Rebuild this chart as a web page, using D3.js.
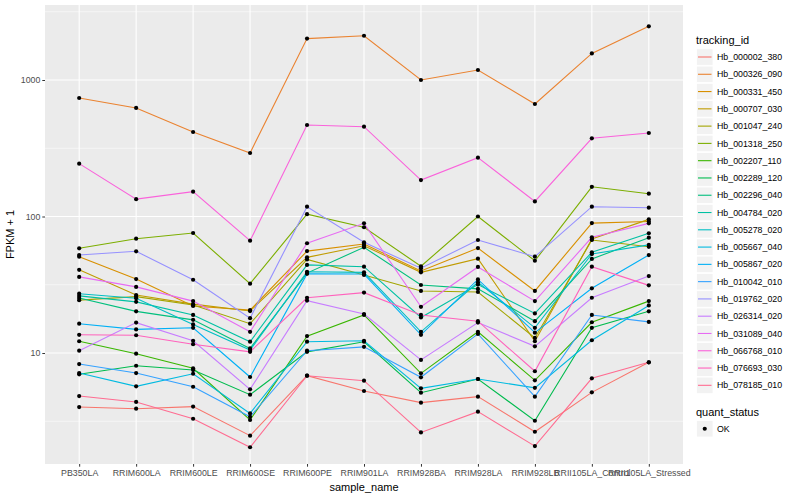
<!DOCTYPE html>
<html><head><meta charset="utf-8">
<script src="https://cdn.jsdelivr.net/npm/d3@7"></script>
<style>body{margin:0;background:#fff}svg{font-family:"Liberation Sans",Arial,sans-serif}</style>
</head><body><svg id="c" width="800" height="500"></svg>
<script>
const samples = ["PB350LA","RRIM600LA","RRIM600LE","RRIM600SE","RRIM600PE","RRIM901LA","RRIM928BA","RRIM928LA","RRIM928LB","RRII105LA_Control","RRII105LA_Stressed"];
const trackingIds = ["Hb_000002_380","Hb_000326_090","Hb_000331_450","Hb_000707_030","Hb_001047_240","Hb_001318_250","Hb_002207_110","Hb_002289_120","Hb_002296_040","Hb_004784_020","Hb_005278_020","Hb_005667_040","Hb_005867_020","Hb_010042_010","Hb_019762_020","Hb_026314_020","Hb_031089_040","Hb_066768_010","Hb_076693_030","Hb_078185_010"];
const hb_000002_380 = [4.02, 3.91, 4.05, 2.48, 6.82, 5.27, 4.33, 4.79, 2.65, 5.15, 8.55];
const hb_000326_090 = [738, 624, 416, 292, 2010, 2110, 1000, 1184, 667, 1567, 2472];
const hb_000331_450 = [50.8, 34.8, 22.1, 20.6, 55.8, 62.9, 39.9, 58.7, 28.5, 89.5, 92.0];
const hb_000707_030 = [40.7, 26.6, 22.8, 20.3, 50.2, 61.1, 39.0, 49.1, 12.2, 68.4, 95.3];
const hb_001047_240 = [24.4, 25.9, 22.5, 16.4, 48.5, 37.3, 28.5, 28.0, 12.9, 67.3, 60.0];
const hb_001318_250 = [58.5, 68.8, 75.7, 32.2, 104, 83.4, 43.2, 100, 47.4, 165, 147];
const hb_002207_110 = [12.2, 9.89, 7.73, 3.23, 13.3, 19.0, 7.1, 14.3, 6.31, 16.8, 24.0];
const hb_002289_120 = [6.98, 8.07, 7.50, 4.95, 10.2, 12.1, 5.12, 6.45, 3.19, 15.3, 20.2];
const hb_002296_040 = [25.3, 20.2, 17.5, 10.8, 38.5, 59.5, 31.5, 29.5, 17.1, 48.9, 70.0];
const hb_004784_020 = [26.2, 23.7, 19.0, 12.1, 44.2, 42.9, 18.2, 31.7, 19.5, 54.7, 75.4];
const hb_005278_020 = [27.2, 25.2, 16.2, 10.5, 39.4, 39.0, 14.3, 33.0, 15.3, 53.1, 62.0];
const hb_005667_040 = [7.13, 5.70, 7.05, 3.61, 12.1, 12.3, 5.51, 6.45, 5.56, 12.4, 22.3];
const hb_005867_020 = [16.4, 14.9, 15.3, 6.67, 38.0, 37.9, 13.6, 34.6, 14.1, 29.8, 52.2];
const hb_010042_010 = [8.30, 7.13, 5.66, 3.41, 10.4, 11.1, 6.64, 13.8, 4.79, 19.0, 16.9];
const hb_019762_020 = [52.2, 55.6, 34.4, 18.0, 118, 64.7, 41.8, 67.3, 50.8, 118, 116];
const hb_026314_020 = [10.4, 16.7, 12.3, 5.42, 24.2, 19.3, 8.9, 16.7, 11.2, 25.4, 36.6];
const hb_031089_040 = [36.1, 30.5, 24.0, 14.3, 63.7, 89.1, 21.8, 42.7, 24.0, 70.4, 89.1];
const hb_066768_010 = [244, 134, 152, 66.5, 468, 455, 185, 270, 129, 374, 409];
const hb_076693_030 = [13.6, 13.5, 11.6, 10.2, 25.4, 27.7, 19.0, 17.1, 7.35, 42.9, 31.3];
const hb_078185_010 = [4.84, 4.38, 3.30, 2.04, 6.82, 6.27, 2.62, 3.72, 2.08, 6.53, 8.55];
const seriesValues = [hb_000002_380,hb_000326_090,hb_000331_450,hb_000707_030,hb_001047_240,hb_001318_250,hb_002207_110,hb_002289_120,hb_002296_040,hb_004784_020,hb_005278_020,hb_005667_040,hb_005867_020,hb_010042_010,hb_019762_020,hb_026314_020,hb_031089_040,hb_066768_010,hb_076693_030,hb_078185_010];
const colors = ["#F8766D","#EA8331","#D89000","#C09B00","#A3A500","#7CAE00","#39B600","#00BB4E","#00BF7D","#00C1A3","#00BFC4","#00BAE0","#00B0F6","#35A2FF","#9590FF","#C77CFF","#E76BF3","#FA62DB","#FF62BC","#FF6C91"];
const yTicks = [10, 100, 1000];
const yMinor = [3.1623, 31.623, 316.23, 3162.3];
const yDomain = [1.538, 3544];

const svg = d3.select("#c");
const P = {l:45, r:683, t:5, b:464};
const x = d3.scalePoint().domain(samples).range([P.l, P.r]).padding(0.6);
const y = d3.scaleLog().domain(yDomain).range([P.b, P.t]);

svg.append("rect").attr("x",P.l).attr("y",P.t).attr("width",P.r-P.l).attr("height",P.b-P.t).attr("fill","#EBEBEB");
const g = svg.append("g");
g.selectAll(".ymin").data(yMinor).join("line").attr("x1",P.l).attr("x2",P.r)
  .attr("y1",d=>y(d)).attr("y2",d=>y(d)).attr("stroke","#fff").attr("stroke-width",0.55);
g.selectAll(".ymaj").data(yTicks).join("line").attr("x1",P.l).attr("x2",P.r)
  .attr("y1",d=>y(d)).attr("y2",d=>y(d)).attr("stroke","#fff").attr("stroke-width",1.1);
g.selectAll(".xmaj").data(samples).join("line").attr("y1",P.t).attr("y2",P.b)
  .attr("x1",d=>x(d)).attr("x2",d=>x(d)).attr("stroke","#fff").attr("stroke-width",1.1);

// axes
const yAxis = d3.axisLeft(y).tickValues(yTicks).tickFormat(d3.format("d")).tickSize(2.7).tickPadding(2);
const ya = svg.append("g").attr("transform",`translate(${P.l},0)`).call(yAxis);
ya.select(".domain").remove();
ya.selectAll("line").attr("stroke","#333");
ya.selectAll("text").attr("fill","#4D4D4D").attr("font-size","8.8px").attr("font-family","Liberation Sans, Arial, sans-serif");
const xAxis = d3.axisBottom(x).tickSize(2.7).tickPadding(3.5);
const xa = svg.append("g").attr("transform",`translate(0,${P.b})`).call(xAxis);
xa.select(".domain").remove();
xa.selectAll("line").attr("stroke","#333");
xa.selectAll("text").attr("fill","#4D4D4D").attr("font-size","8.8px").attr("font-family","Liberation Sans, Arial, sans-serif");

svg.append("text").attr("x",(P.l+P.r)/2).attr("y",491).attr("text-anchor","middle").attr("font-size","11px").text("sample_name");
svg.append("text").attr("transform",`translate(14,${(P.t+P.b)/2}) rotate(-90)`).attr("text-anchor","middle").attr("font-size","11px").text("FPKM + 1");

// lines
const line = d3.line().x((d,i)=>x(samples[i])).y(d=>y(d));
seriesValues.forEach((vals,k)=>{
  svg.append("path").attr("d",line(vals)).attr("fill","none").attr("stroke",colors[k]).attr("stroke-width",1.1);
});
seriesValues.forEach((vals)=>{
  svg.append("g").selectAll("circle").data(vals).join("circle")
    .attr("cx",(d,i)=>x(samples[i])).attr("cy",d=>y(d)).attr("r",2.1).attr("fill","#000");
});

// legend
const L = svg.append("g");
L.append("text").attr("x",696).attr("y",44).attr("font-size","11px").text("tracking_id");
trackingIds.forEach((name,i)=>{
  const cy = 57 + i*17.28;
  L.append("rect").attr("x",696.5).attr("y",cy-8.2).attr("width",16.5).attr("height",16.5).attr("fill","#F2F2F2").attr("stroke","#fff").attr("stroke-width",0.8);
  L.append("line").attr("x1",698).attr("x2",711.5).attr("y1",cy).attr("y2",cy).attr("stroke",colors[i]).attr("stroke-width",1.1);
  L.append("text").attr("x",717).attr("y",cy+3.1).attr("font-size","8.8px").text(name);
});
L.append("text").attr("x",696).attr("y",416).attr("font-size","11px").text("quant_status");
L.append("rect").attr("x",696.5).attr("y",420.5).attr("width",16.5).attr("height",16.5).attr("fill","#F2F2F2").attr("stroke","#fff").attr("stroke-width",0.8);
L.append("circle").attr("cx",704.75).attr("cy",428.75).attr("r",2.1).attr("fill","#000");
L.append("text").attr("x",717).attr("y",431.9).attr("font-size","8.8px").text("OK");
</script></body></html>
